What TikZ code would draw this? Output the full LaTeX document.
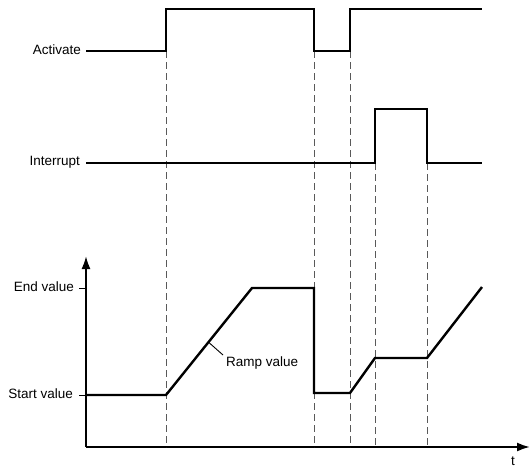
\documentclass[tikz,border=0pt]{standalone}
\usepackage{fontspec}
\setmainfont{Liberation Sans}
\usetikzlibrary{arrows.meta,calc}
\begin{document}
\begin{tikzpicture}[x=1pt,y=-1pt,
  sig/.style={line width=2.4pt,line join=miter},
  axis/.style={line width=2pt,-{Latex[length=13pt,width=9pt]}},
  guide/.style={line width=0.9pt,draw=black!65,dash pattern=on 7pt off 4pt},
  lbl/.style={font=\fontsize{13.5}{15}\selectfont,inner sep=0pt,anchor=east},
  tick/.style={line width=1pt}]
\useasboundingbox (0,0) rectangle (530,469);
% origin / axes
\coordinate (O) at (86,447);
\coordinate (ytop) at (86,256);
\coordinate (xend) at (530,447);
\draw[axis] (O) -- (ytop);
\draw[axis] (O) -- (xend);
\node[inner sep=0pt,font=\fontsize{13.5}{15}\selectfont] (t) at (513,461) {t};
% dashed guides
\draw[guide] (166,51) -- (166,447);
\draw[guide] (314,51) -- (314,447);
\draw[guide] (350,51) -- (350,447);
\draw[guide] (375,163) -- (375,447);
\draw[guide] (427,163) -- (427,447);
% Activate
\node[lbl] (act) at (81,50) {Activate};
\draw[sig] (86,51) -- (166,51) -- (166,9) -- (314,9) -- (314,51) -- (350,51) -- (350,9) -- (482,9);
% Interrupt
\node[lbl] (int) at (80,162) {Interrupt};
\draw[sig] (86,163) -- (375,163) -- (375,109) -- (427,109) -- (427,163) -- (482,163);
% value ticks and labels
\draw[tick] (79,288) -- (86,288);
\draw[tick] (79,395) -- (86,395);
\node[lbl] (endv) at (74,287) {End value};
\node[lbl] (startv) at (73,394) {Start value};
% ramp curve
\coordinate (r1) at (166,395);
\coordinate (r2) at (252,288);
\draw[sig] (86,395) -- (r1) -- (r2) -- (314,288) -- (314,393) -- (350,393) -- (375,358) -- (427,358) -- (482,287);
% ramp label
\node[inner sep=0pt,anchor=west,font=\fontsize{13.5}{15}\selectfont] (ramp) at (226,363) {Ramp value};
\coordinate (rp) at ($(r1)!0.494!(r2)$);
\coordinate (rl) at (223,355);
\draw[line width=0.9pt] (rp) -- (rl);
\end{tikzpicture}
\end{document}
